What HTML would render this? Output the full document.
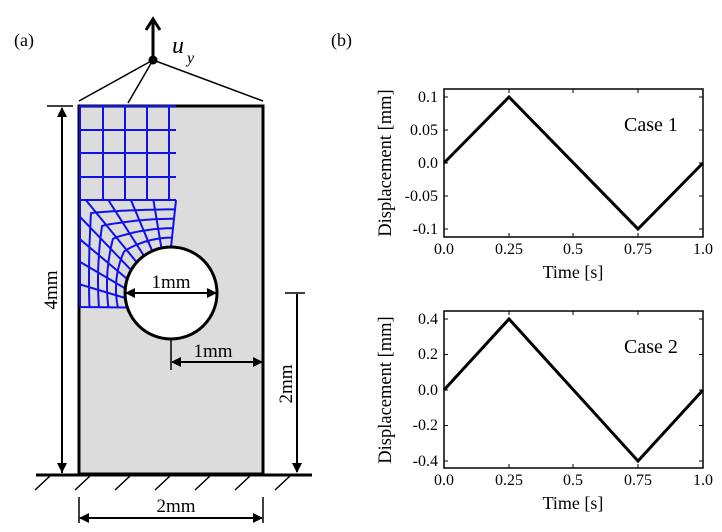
<!DOCTYPE html>
<html><head><meta charset="utf-8"><style>
html,body{margin:0;padding:0;background:#fff}
svg{display:block}
text{font-family:"Liberation Serif",serif;fill:#000}
</style></head><body>
<svg id="s" width="722" height="532" viewBox="0 0 722 532" xmlns="http://www.w3.org/2000/svg">
<defs>
<marker id="ah" markerWidth="10" markerHeight="10" refX="9" refY="5" orient="auto" markerUnits="userSpaceOnUse">
<path d="M0,0 L10,5 L0,10 Z" fill="#000"/></marker>
</defs>
<text x="14" y="46" font-size="18">(a)</text>
<text x="331" y="46" font-size="18">(b)</text>
<path d="M79,106 H263 V474 H79 Z" fill="#dcdcdc" stroke="#000" stroke-width="3"/>
<g id="mesh" stroke="#1010ee" stroke-width="2" fill="none"></g>
<circle cx="171" cy="293" r="46" fill="#fff" stroke="#000" stroke-width="3"/>
<line x1="153" y1="60" x2="153" y2="20" stroke="#000" stroke-width="3"/>
<path d="M146,30 L153,19 L160,30" fill="none" stroke="#000" stroke-width="3"/>
<circle cx="153" cy="60" r="4.5" fill="#000"/>
<path d="M153,60 L79,101 M153,60 L128,103 M153,60 L263,101" stroke="#000" stroke-width="1.5"/>
<text x="172" y="53" font-size="24" font-style="italic">u</text>
<text x="187" y="63" font-size="16" font-style="italic">y</text>
<line x1="47" y1="106" x2="73" y2="106" stroke="#000" stroke-width="1.5"/>
<line x1="62" y1="473" x2="62" y2="108" stroke="#000" stroke-width="2" marker-end="url(#ah)"/>
<line x1="62" y1="108" x2="62" y2="472" stroke="#000" stroke-width="2" marker-end="url(#ah)"/>
<text transform="translate(57,290) rotate(-90)" font-size="19" text-anchor="middle">4mm</text>
<line x1="285" y1="293" x2="305" y2="293" stroke="#000" stroke-width="1.5"/>
<line x1="297" y1="294" x2="297" y2="472" stroke="#000" stroke-width="2" marker-end="url(#ah)"/>
<text transform="translate(292,384) rotate(-90)" font-size="19" text-anchor="middle">2mm</text>
<line x1="126" y1="293" x2="216" y2="293" stroke="#000" stroke-width="2" marker-end="url(#ah)"/>
<line x1="216" y1="293" x2="126" y2="293" stroke="#000" stroke-width="2" marker-end="url(#ah)"/>
<text x="171" y="288" font-size="19" text-anchor="middle">1mm</text>
<line x1="171" y1="340" x2="171" y2="370" stroke="#000" stroke-width="1.5"/>
<line x1="172" y1="362" x2="262" y2="362" stroke="#000" stroke-width="2" marker-end="url(#ah)"/>
<line x1="262" y1="362" x2="172" y2="362" stroke="#000" stroke-width="2" marker-end="url(#ah)"/>
<text x="213" y="357" font-size="19" text-anchor="middle">1mm</text>
<line x1="36" y1="475" x2="312" y2="475" stroke="#000" stroke-width="3"/>
<path d="M35,490 L50,476 M75,490 L90,476 M115,490 L130,476 M155,490 L170,476 M195,490 L210,476 M235,490 L250,476 M275,490 L290,476" stroke="#000" stroke-width="1.5"/>
<line x1="79" y1="497" x2="79" y2="523" stroke="#000" stroke-width="1.5"/>
<line x1="263" y1="497" x2="263" y2="523" stroke="#000" stroke-width="1.5"/>
<line x1="80" y1="518" x2="262" y2="518" stroke="#000" stroke-width="2" marker-end="url(#ah)"/>
<line x1="262" y1="518" x2="80" y2="518" stroke="#000" stroke-width="2" marker-end="url(#ah)"/>
<text x="176" y="512" font-size="19" text-anchor="middle">2mm</text>
<g font-size="16">
<rect x="444" y="89" width="259" height="148" fill="none" stroke="#000" stroke-width="1.5"/>
<polyline points="444,163 509,97 638,229 703,163" fill="none" stroke="#000" stroke-width="3"/>
<g stroke="#000" stroke-width="1">
<path d="M444,97h4M444,130h4M444,163h4M444,196h4M444,229h4M703,97h-4M703,130h-4M703,163h-4M703,196h-4M703,229h-4"/>
<path d="M509,237v-4M573,237v-4M638,237v-4M509,89v4M573,89v4M638,89v4"/>
</g>
<g text-anchor="end"><text x="438" y="102">0.1</text><text x="438" y="135">0.05</text><text x="438" y="168">0.0</text><text x="438" y="201">-0.05</text><text x="438" y="234">-0.1</text></g>
<g text-anchor="middle"><text x="444" y="254">0.0</text><text x="509" y="254">0.25</text><text x="573" y="254">0.5</text><text x="638" y="254">0.75</text><text x="703" y="254">1.0</text></g>
<text x="573" y="278" font-size="18" text-anchor="middle">Time [s]</text>
<text transform="translate(391,163) rotate(-90)" font-size="18.5" text-anchor="middle">Displacement [mm]</text>
<text x="624" y="131" font-size="20">Case 1</text>
</g>
<g font-size="16">
<rect x="444" y="311" width="259" height="157" fill="none" stroke="#000" stroke-width="1.5"/>
<polyline points="444,390 509,319 638,461 703,390" fill="none" stroke="#000" stroke-width="3"/>
<g stroke="#000" stroke-width="1">
<path d="M444,319h4M444,354.5h4M444,390h4M444,425.5h4M444,461h4M703,319h-4M703,354.5h-4M703,390h-4M703,425.5h-4M703,461h-4"/>
<path d="M509,468v-4M573,468v-4M638,468v-4M509,311v4M573,311v4M638,311v4"/>
</g>
<g text-anchor="end"><text x="438" y="324">0.4</text><text x="438" y="359">0.2</text><text x="438" y="395">0.0</text><text x="438" y="430">-0.2</text><text x="438" y="466">-0.4</text></g>
<g text-anchor="middle"><text x="444" y="485">0.0</text><text x="509" y="485">0.25</text><text x="573" y="485">0.5</text><text x="638" y="485">0.75</text><text x="703" y="485">1.0</text></g>
<text x="573" y="509" font-size="18" text-anchor="middle">Time [s]</text>
<text transform="translate(391,390) rotate(-90)" font-size="18.5" text-anchor="middle">Displacement [mm]</text>
<text x="624" y="353" font-size="20">Case 2</text>
</g>
</svg>
<script>
(function(){
var g=document.getElementById('mesh'),ns='http://www.w3.org/2000/svg',d='';
var xs=[80,103,125,147,169],ys=[106,130,153,177,200];
ys.forEach(function(y){d+='M80,'+y+'H176';});
xs.forEach(function(x){d+='M'+x+',106V200';});
d+='M80,200V307';
function outer(s){var L1=96,L2=107,t=s*(L1+L2);if(t<=L1)return[176-t,200];return[80,200+(t-L1)];}
function inner(s){var a=-Math.PI/2 - s*(Math.PI/2+0.32);return[171+46*Math.cos(a),293+46*Math.sin(a)];}
var N=9,M=5;
for(var i=0;i<=N;i++){var s=i/N,o=outer(s),n=inner(s);d+='M'+o[0].toFixed(1)+','+o[1].toFixed(1)+'L'+n[0].toFixed(1)+','+n[1].toFixed(1);}
for(var j=1;j<M;j++){var r=j/M;var pts=[];for(var k=0;k<=40;k++){var s=k/40,o=outer(s),n=inner(s);pts.push((o[0]+(n[0]-o[0])*r).toFixed(1)+','+(o[1]+(n[1]-o[1])*r).toFixed(1));}d+='M'+pts.join('L');}
var p=document.createElementNS(ns,'path');p.setAttribute('d',d);g.appendChild(p);
})();
</script>
</body></html>
